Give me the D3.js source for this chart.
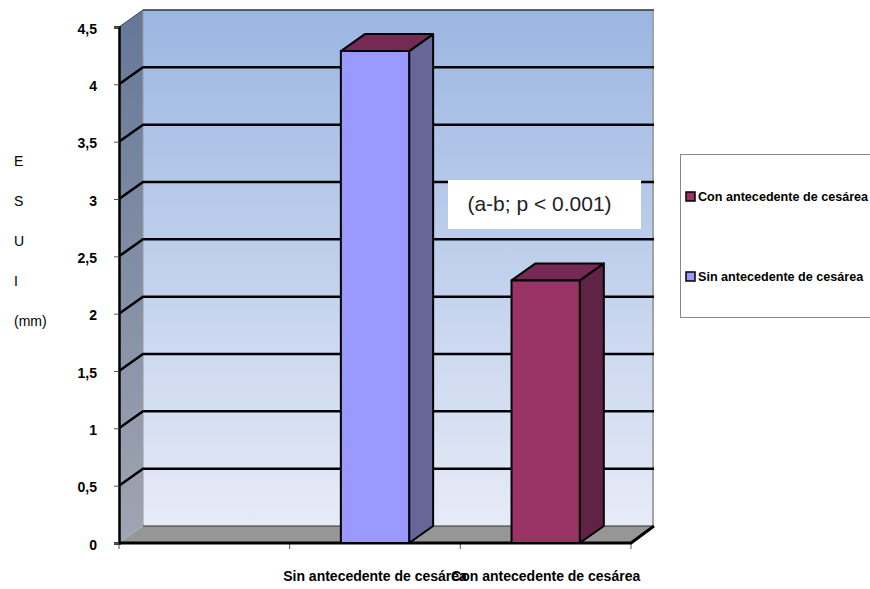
<!DOCTYPE html>
<html>
<head>
<meta charset="utf-8">
<script src="https://cdn.jsdelivr.net/npm/d3@7"></script>
<style>
  body { margin: 0; background: #fff; overflow: hidden; }
  text { font-family: "Liberation Sans", Arial, sans-serif; fill: #000; }
</style>
</head>
<body>
<div id="chart"></div>
<script>
const categories = ["", "Sin antecedente de cesárea", "Con antecedente de cesárea"];
const values = [4.29, 2.29];
const barCategories = categories.slice(1);
const yTicks = [0, 0.5, 1, 1.5, 2, 2.5, 3, 3.5, 4, 4.5];
const tickLabels = ["0", "0,5", "1", "1,5", "2", "2,5", "3", "3,5", "4", "4,5"];
const legendNames = ["Con antecedente de cesárea", "Sin antecedente de cesárea"];
const yTitle = ["E", "S", "U", "I", "(mm)"];
const note = "(a-b; p < 0.001)";

const width = 870, height = 589;
const plot = {left: 119, right: 631, top: 27, bottom: 543};
const depth = {x: 24, y: -17};

const colors = {
    "Sin antecedente de cesárea": {front: "#9999ff", side: "#666699", top: "#742a55"},
    "Con antecedente de cesárea": {front: "#993366", side: "#602245", top: "#742a55"}
};

const svg = d3.select("#chart")
    .append("svg")
    .attr("width", width)
    .attr("height", height);

const x = d3.scaleBand().domain(categories).range([plot.left, plot.right]);
const y = d3.scaleLinear().domain([0, 4.5]).range([plot.bottom, plot.top]);
const barWidth = x.bandwidth() * 0.4;

const defs = svg.append("defs");
const wallGrad = defs.append("linearGradient").attr("id", "wallGrad")
    .attr("x1", 0).attr("y1", 0).attr("x2", 0).attr("y2", 1);
wallGrad.append("stop").attr("offset", 0).attr("stop-color", "#9bb6e2");
wallGrad.append("stop").attr("offset", 1).attr("stop-color", "#e6ebf7");
const sideGrad = defs.append("linearGradient").attr("id", "sideGrad")
    .attr("x1", 0).attr("y1", 0).attr("x2", 0).attr("y2", 1);
sideGrad.append("stop").attr("offset", 0).attr("stop-color", "#657898");
sideGrad.append("stop").attr("offset", 1).attr("stop-color", "#a0a5b2");

const polyPath = pts => d3.line()(pts) + "Z";

// back wall
const backLeft = plot.left + depth.x, backRight = plot.right + depth.x - 3;
svg.append("rect")
    .attr("x", backLeft)
    .attr("y", y(4.5) + depth.y)
    .attr("width", backRight - backLeft)
    .attr("height", y(0) - y(4.5))
    .attr("fill", "url(#wallGrad)");

// side wall
svg.append("path")
    .attr("d", polyPath([[plot.left, y(4.5)], [backLeft, y(4.5) + depth.y], [backLeft, y(0) + depth.y], [plot.left, y(0)]]))
    .attr("fill", "url(#sideGrad)");
svg.append("line")
    .attr("x1", backLeft).attr("x2", backLeft)
    .attr("y1", y(4.5) + depth.y).attr("y2", y(0) + depth.y)
    .attr("stroke", "#9a9a9a").attr("stroke-width", 1);

// floor
svg.append("path")
    .attr("d", polyPath([[plot.left, y(0)], [backLeft, y(0) + depth.y], [backRight, y(0) + depth.y], [plot.right, y(0)]]))
    .attr("fill", "#969696");
svg.append("line")
    .attr("x1", backLeft).attr("x2", backRight)
    .attr("y1", y(0) + depth.y).attr("y2", y(0) + depth.y)
    .attr("stroke", "#333").attr("stroke-width", 1);

// right edge + top edge of the wall
svg.append("line")
    .attr("x1", backRight + 1).attr("x2", backRight + 1)
    .attr("y1", y(4.5) + depth.y).attr("y2", y(0) + depth.y)
    .attr("stroke", "#a3a3a3").attr("stroke-width", 2);
svg.append("line")
    .attr("x1", backLeft).attr("x2", backRight + 2)
    .attr("y1", y(4.5) + depth.y).attr("y2", y(4.5) + depth.y)
    .attr("stroke", "#333").attr("stroke-width", 1.5);
svg.append("line")
    .attr("x1", plot.left).attr("x2", backLeft)
    .attr("y1", y(4.5)).attr("y2", y(4.5) + depth.y)
    .attr("stroke", "#445").attr("stroke-width", 1);

// gridlines
svg.selectAll("path.grid")
    .data(yTicks.filter(d => d > 0 && d < 4.5))
    .enter().append("path")
    .attr("class", "grid")
    .attr("d", d => d3.line()([[plot.left, y(d)], [backLeft, y(d) + depth.y], [backRight + 2, y(d) + depth.y]]))
    .attr("fill", "none")
    .attr("stroke", "#000")
    .attr("stroke-width", 2.5);

// y axis
const yAxis = svg.append("g")
    .attr("transform", "translate(" + plot.left + ",0)")
    .call(d3.axisLeft(y).tickValues(yTicks).tickFormat((d, i) => tickLabels[i]).tickSize(5).tickPadding(17));
yAxis.select(".domain").attr("stroke-width", 2.5);
yAxis.selectAll(".tick line").attr("stroke", "#555");
yAxis.selectAll("text").attr("dy", "0.43em").style("font-size", "14px").style("font-weight", "bold");

// x axis, ticks sit on the band edges
const xAxis = svg.append("g")
    .attr("transform", "translate(0," + plot.bottom + ")")
    .call(d3.axisBottom(x).tickSize(0).tickPadding(28));
xAxis.select(".domain").remove();
xAxis.selectAll("text").style("font-size", "14px").style("font-weight", "bold");
const edges = categories.map(d => x(d)).concat([plot.right]);
xAxis.selectAll("line.edge")
    .data(edges)
    .enter().append("line")
    .attr("class", "edge")
    .attr("x1", d => d).attr("x2", d => d)
    .attr("y1", 0).attr("y2", 6)
    .attr("stroke", "#555");
svg.append("path")
    .attr("d", d3.line()([[plot.left, y(0)], [plot.right, y(0)], [backRight + 2, y(0) + depth.y]]))
    .attr("fill", "none")
    .attr("stroke", "#000")
    .attr("stroke-width", 3);

// bars
const bars = svg.selectAll("g.bar")
    .data(barCategories)
    .enter().append("g")
    .attr("class", "bar");
const barX = d => x(d) + (x.bandwidth() - barWidth) / 2;
const valueOf = d => values[barCategories.indexOf(d)];
bars.append("path")
    .attr("d", d => {
        const x0 = barX(d) + barWidth, t = y(valueOf(d));
        return polyPath([[x0, t], [x0 + depth.x, t + depth.y], [x0 + depth.x, y(0) + depth.y], [x0, y(0)]]);
    })
    .attr("fill", d => colors[d].side);
bars.append("path")
    .attr("d", d => {
        const x0 = barX(d), t = y(valueOf(d));
        return polyPath([[x0, t], [x0 + depth.x, t + depth.y], [x0 + barWidth + depth.x, t + depth.y], [x0 + barWidth, t]]);
    })
    .attr("fill", d => colors[d].top);
bars.append("rect")
    .attr("x", barX)
    .attr("y", d => y(valueOf(d)))
    .attr("width", barWidth)
    .attr("height", d => y(0) - y(valueOf(d)))
    .attr("fill", d => colors[d].front);
bars.selectAll("path, rect")
    .attr("stroke", "#000")
    .attr("stroke-width", 2)
    .attr("stroke-linejoin", "round");

// note box
svg.append("rect")
    .attr("x", 448).attr("y", 180)
    .attr("width", 193).attr("height", 49)
    .attr("fill", "#fff");
svg.append("text")
    .attr("x", 539.5).attr("y", 211)
    .attr("text-anchor", "middle")
    .style("font-size", "21px")
    .style("fill", "#222")
    .text(note);

// y title, one letter per line
svg.selectAll("text.ytitle")
    .data(yTitle)
    .enter().append("text")
    .attr("class", "ytitle")
    .attr("x", 14)
    .attr("y", (d, i) => 166 + i * 40)
    .style("font-size", "14px")
    .text(d => d);

// legend
svg.append("rect")
    .attr("x", 680.5).attr("y", 154.5)
    .attr("width", 200).attr("height", 163)
    .attr("fill", "#fff")
    .attr("stroke", "#888");
const legend = svg.selectAll("g.legend")
    .data(legendNames)
    .enter().append("g")
    .attr("class", "legend")
    .attr("transform", (d, i) => "translate(686," + (192 + i * 80) + ")");
legend.append("rect")
    .attr("width", 9).attr("height", 9)
    .attr("fill", d => colors[d].front)
    .attr("stroke", "#000")
    .attr("stroke-width", 1.5);
legend.append("text")
    .attr("x", 12).attr("y", 9)
    .style("font-size", "12.6px")
    .style("font-weight", "bold")
    .text(d => d);
</script>
</body>
</html>
